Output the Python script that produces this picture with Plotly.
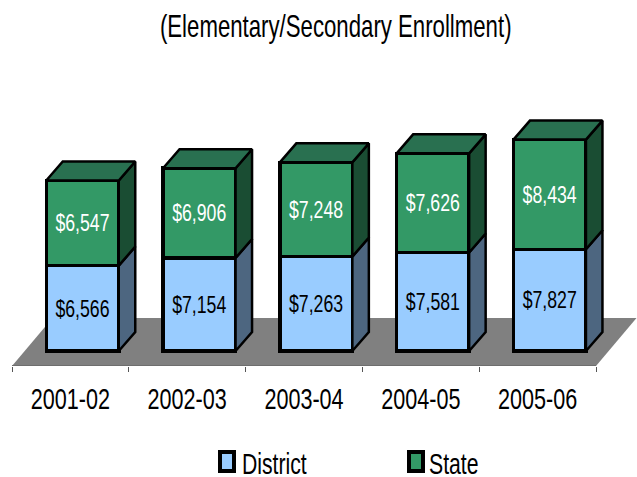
import plotly.graph_objects as go

categories = ["2001-02", "2002-03", "2003-04", "2004-05", "2005-06"]
district = [6566, 7154, 7263, 7581, 7827]
state = [6547, 6906, 7248, 7626, 8434]

FONT = "Liberation Sans, Arial, sans-serif"
W, H = 637, 477
AXIS_PX = 366            # pixel row of the category axis
PX_PER_X = 116.8         # pixels per category
X_LEFT = 12              # pixel of the first category's left boundary
PX_PER_Y = 0.01300       # pixels per dollar
BASE_PX = 351            # pixel row of the $0 line

xrange_ = [-0.5 - X_LEFT / PX_PER_X, -0.5 + (W - X_LEFT) / PX_PER_X]
yrange_ = [-(AXIS_PX - BASE_PX) / PX_PER_Y, BASE_PX / PX_PER_Y]

BAR_SHIFT = 12.1 / PX_PER_X
BAR_WIDTH = 72.5 / PX_PER_X
DX = 16.5 / PX_PER_X
DY = 19 / PX_PER_Y
positions = [i + BAR_SHIFT for i in range(len(categories))]


def side_faces(bottoms, tops):
    xs, ys = [], []
    for p, b, t in zip(positions, bottoms, tops):
        r = p + BAR_WIDTH / 2
        xs += [r, r + DX, r + DX, r, r, None]
        ys += [b, b + DY, t + DY, t, b, None]
    return xs, ys


def top_faces(tops):
    xs, ys = [], []
    for p, t in zip(positions, tops):
        l, r = p - BAR_WIDTH / 2, p + BAR_WIDTH / 2
        xs += [l, l + DX, r + DX, r, l, None]
        ys += [t, t + DY, t + DY, t, t, None]
    return xs, ys


zeros = [0] * len(district)
totals = [d + s for d, s in zip(district, state)]
EDGE = dict(color="#000000", width=3.5)

fig = go.Figure()
fig.add_trace(go.Bar(
    x=positions, y=district, name="District", width=BAR_WIDTH,
    marker=dict(color="#99CCFF", line=EDGE),
    text=[f"${v:,}" for v in district], textposition="inside",
    insidetextanchor="middle", textangle=0, constraintext="none",
    insidetextfont=dict(family=FONT, size=17.7, color="#000000"),
))
fig.add_trace(go.Bar(
    x=positions, y=state, name="State", width=BAR_WIDTH,
    marker=dict(color="#339966", line=EDGE),
    text=[f"${v:,}" for v in state], textposition="inside",
    insidetextanchor="middle", textangle=0, constraintext="none",
    insidetextfont=dict(family=FONT, size=17.7, color="#FFFFFF"),
))

for (xs, ys), colour, name in [
    (side_faces(zeros, district), "#4D6680", "District side"),
    (side_faces(district, totals), "#1A4D33", "State side"),
    (top_faces(totals), "#297050", "State top"),
]:
    fig.add_trace(go.Scatter(
        x=xs, y=ys, mode="lines", fill="toself", fillcolor=colour,
        line=dict(color="#000000", width=2.5), name=name,
        hoverinfo="skip", showlegend=False,
    ))

# floor of the 3D chart
lo, hi = -0.5, len(categories) - 0.5
ymin = yrange_[0]
fdx, fdy = 40.5 / PX_PER_X, 48 / PX_PER_Y
shapes = [dict(
    type="path", layer="below", xref="x", yref="y",
    path=f"M {lo} {ymin} L {lo + fdx} {ymin + fdy} L {hi + fdx} {ymin + fdy} L {hi} {ymin} Z",
    fillcolor="#808080", line=dict(width=0),
), dict(
    type="line", layer="above", xref="x", yref="y",
    x0=lo, x1=hi, y0=ymin, y1=ymin, line=dict(color="#6E6E6E", width=2),
)]


def py(p):
    return (H - 111 - p) / (H - 111)


for x0, x1, colour in [(220, 234, "#99CCFF"), (409, 423, "#339966")]:
    shapes.append(dict(
        type="rect", xref="paper", yref="paper",
        x0=x0 / W, x1=x1 / W, y0=py(452), y1=py(471),
        fillcolor=colour, line=dict(color="#000000", width=4),
    ))

annotations = [
    dict(text="(Elementary/Secondary Enrollment)", x=335 / W, y=py(27),
         font=dict(size=22.2)),
    dict(text="District", x=274.5 / W, y=py(463), font=dict(size=21.2)),
    dict(text="State", x=453.5 / W, y=py(463), font=dict(size=21.2)),
]
for a in annotations:
    a.update(xref="paper", yref="paper", showarrow=False, xanchor="center",
             yanchor="middle")
    a["font"].update(family=FONT, color="#000000")

fig.update_layout(
    width=W, height=H, barmode="stack", showlegend=False,
    margin=dict(l=0, r=0, t=0, b=H - AXIS_PX, pad=0),
    paper_bgcolor="#FFFFFF", plot_bgcolor="rgba(0,0,0,0)",
    shapes=shapes, annotations=annotations,
    xaxis=dict(
        range=xrange_, tickmode="array", tickvals=list(range(len(categories))),
        ticktext=categories, ticks="", showgrid=False, zeroline=False,
        showline=False, ticklabelstandoff=18,
        tickfont=dict(family=FONT, size=21.6, color="#000000"),
        minor=dict(tickmode="array",
                   tickvals=[i - 0.5 for i in range(len(categories) + 1)],
                   ticks="outside", ticklen=5, tickwidth=1, tickcolor="#555555",
                   showgrid=False),
    ),
    yaxis=dict(range=yrange_, visible=False),
)

# The reference's text is condensed: stretch each label vertically about its centre.
POST = """
document.body.style.margin = '0';
document.querySelectorAll('.main-svg text').forEach(function (t) {
  var b = t.getBBox(), cy = b.y + b.height / 2, prev = t.getAttribute('transform') || '';
  t.setAttribute('transform', prev + ' translate(0,' + cy + ') scale(1,1.38) translate(0,' + (-cy) + ')');
});
"""
fig.write_html("out.html", post_script=POST, config={"displayModeBar": False})
